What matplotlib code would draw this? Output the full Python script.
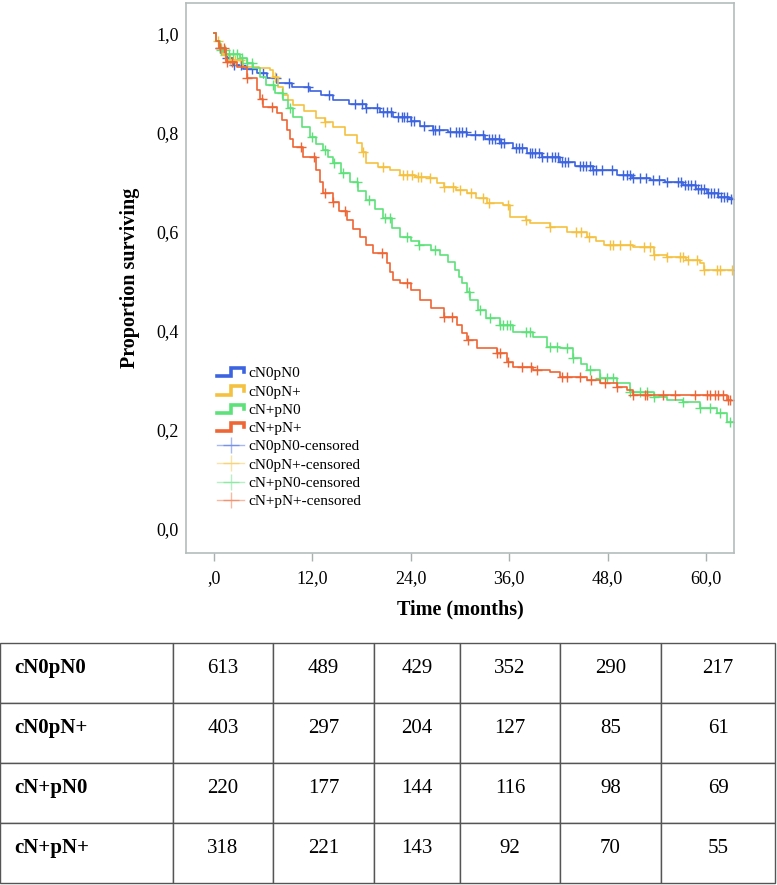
import numpy as np
import matplotlib
matplotlib.use("Agg")
import matplotlib.pyplot as plt
from matplotlib.lines import Line2D
from matplotlib.legend_handler import HandlerBase
from matplotlib.table import Table

plt.rcParams['font.family'] = ['Liberation Serif', 'DejaVu Serif']

# groups and colours
groups = ["cN0pN0", "cN0pN+", "cN+pN0", "cN+pN+"]
colors = ["#3d64e0", "#f5c140", "#5de27a", "#ef6534"]

# Kaplan-Meier steps (months, proportion surviving)
t_cn0pn0 = [0, 0.3, 0.6, 1.0, 1.5, 2.3, 3.5, 5.2, 6.5, 7.7, 9.5, 11.7, 13.0, 14.5, 16.5, 18.6,
            20.3, 21.8, 24.0, 25.1, 26.7, 28.5, 30.8, 33.0, 34.9, 36.5, 38.2, 40.0, 42.2, 44.0,
            46.2, 49.1, 51.0, 53.2, 55.0, 57.2, 58.8, 60.1, 61.5, 62.8, 63.4]
s_cn0pn0 = [1.0, 0.985, 0.97, 0.962, 0.95, 0.935, 0.928, 0.92, 0.91, 0.9, 0.892, 0.883, 0.875,
            0.865, 0.856, 0.848, 0.84, 0.83, 0.822, 0.812, 0.804, 0.80, 0.794, 0.786, 0.778,
            0.768, 0.757, 0.75, 0.74, 0.732, 0.723, 0.713, 0.708, 0.703, 0.699, 0.693, 0.685,
            0.677, 0.67, 0.665, 0.665]

t_cn0pnp = [0, 0.3, 0.6, 1.1, 2.0, 3.5, 5.5, 6.8, 7.2, 7.8, 8.4, 9.0, 9.7, 11.0, 12.5, 13.5,
            14.5, 16.0, 17.4, 18.0, 18.6, 20.0, 21.5, 22.7, 24.5, 26.3, 27.2, 28.0, 29.5, 30.8,
            32.0, 33.3, 35.3, 36.1, 38.1, 38.5, 41.0, 43.0, 45.5, 46.6, 47.5, 51.1, 53.6, 55.2,
            57.5, 59.3, 59.7, 63.4]
s_cn0pnp = [1.0, 0.985, 0.97, 0.955, 0.945, 0.932, 0.929, 0.925, 0.911, 0.892, 0.875, 0.865,
            0.855, 0.842, 0.828, 0.82, 0.81, 0.795, 0.778, 0.76, 0.737, 0.73, 0.723, 0.713, 0.71,
            0.707, 0.698, 0.689, 0.683, 0.677, 0.668, 0.657, 0.653, 0.628, 0.622, 0.616, 0.608,
            0.598, 0.588, 0.58, 0.572, 0.568, 0.552, 0.548, 0.542, 0.535, 0.521, 0.521]

t_cnppn0 = [0, 0.3, 0.7, 1.5, 3.2, 4.0, 4.8, 5.6, 6.4, 7.4, 8.4, 9.0, 9.7, 10.7, 11.7, 12.5,
            13.3, 13.9, 14.5, 15.5, 16.6, 17.6, 18.6, 19.6, 20.6, 21.7, 22.7, 24.0, 25.0, 26.5,
            27.6, 28.5, 29.4, 29.9, 30.3, 30.8, 31.2, 32.2, 33.2, 34.9, 36.5, 38.9, 40.6, 42.2,
            43.8, 44.7, 45.5, 47.1, 49.1, 50.7, 53.6, 55.2, 57.2, 59.3, 61.3, 62.5, 63.4]
s_cnppn0 = [1.0, 0.985, 0.966, 0.958, 0.949, 0.94, 0.929, 0.912, 0.895, 0.88, 0.865, 0.848,
            0.83, 0.81, 0.79, 0.777, 0.764, 0.75, 0.737, 0.718, 0.699, 0.681, 0.663, 0.645,
            0.626, 0.607, 0.588, 0.58, 0.572, 0.562, 0.552, 0.537, 0.521, 0.508, 0.495, 0.478,
            0.461, 0.44, 0.425, 0.41, 0.396, 0.386, 0.366, 0.364, 0.343, 0.331, 0.319, 0.303,
            0.293, 0.275, 0.265, 0.259, 0.255, 0.242, 0.232, 0.214, 0.214]

t_cnppnp = [0, 0.3, 0.6, 1.5, 2.8, 4.0, 5.2, 5.6, 6.0, 7.7, 8.3, 8.9, 9.3, 9.7, 10.9, 12.5,
            12.9, 13.3, 14.5, 15.3, 16.2, 17.0, 17.8, 18.6, 19.4, 21.1, 21.5, 21.8, 22.7, 24.0,
            25.1, 26.5, 28.0, 29.6, 30.2, 30.8, 32.1, 34.5, 35.7, 36.5, 38.9, 41.0, 42.2, 45.5,
            47.1, 49.1, 50.4, 51.1, 62.6, 63.0]
s_cnppnp = [1.0, 0.985, 0.97, 0.941, 0.931, 0.909, 0.885, 0.868, 0.851, 0.838, 0.825, 0.804,
            0.787, 0.77, 0.75, 0.723, 0.70, 0.677, 0.659, 0.64, 0.622, 0.605, 0.588, 0.572,
            0.556, 0.535, 0.518, 0.501, 0.495, 0.481, 0.461, 0.445, 0.426, 0.41, 0.395, 0.38,
            0.364, 0.354, 0.336, 0.326, 0.319, 0.315, 0.305, 0.299, 0.293, 0.285, 0.279, 0.269,
            0.259, 0.259]

# censoring times (months)
c_cn0pn0 = [0.8, 1.6, 2.5, 3.3, 4.6, 6.0, 7.6, 9.2, 11.5, 14.0, 17.2, 18.0, 18.6, 19.9, 20.6,
            21.1, 21.6, 22.4, 22.9, 23.2, 23.6, 24.0, 24.4, 25.6, 26.7, 27.0, 27.4, 28.8, 29.5,
            29.9, 30.3, 30.7, 31.8, 32.8, 33.5, 33.9, 34.3, 34.7, 35.0, 35.4, 36.8, 37.2, 37.6,
            38.5, 38.8, 39.2, 39.6, 40.0, 40.6, 41.2, 41.6, 42.0, 42.4, 42.8, 43.2, 44.6, 45.0,
            45.4, 45.8, 46.2, 46.6, 47.3, 48.5, 49.9, 50.3, 50.7, 51.1, 52.0, 52.7, 53.5, 54.3,
            55.2, 56.6, 57.0, 57.4, 57.8, 58.2, 58.6, 59.0, 59.4, 59.8, 60.2, 60.6, 61.0, 61.4,
            61.8, 62.2, 62.6, 63.0]
c_cn0pnp = [0.5, 0.9, 1.4, 2.0, 2.6, 3.2, 7.4, 13.6, 18.2, 20.6, 23.1, 23.6, 24.1, 24.9, 25.3,
            26.3, 28.0, 29.2, 30.0, 31.4, 32.8, 33.5, 35.9, 38.1, 41.0, 44.2, 44.8, 45.7, 48.3,
            48.7, 49.5, 50.7, 52.4, 53.2, 53.6, 55.2, 56.8, 57.2, 57.8, 58.9, 59.7, 61.3, 61.7,
            63.1]
c_cnppn0 = [0.9, 1.3, 1.8, 2.3, 2.8, 3.4, 4.0, 4.7, 7.2, 8.3, 9.3, 12.0, 13.5, 14.6, 15.7, 17.5,
            18.9, 20.8, 21.5, 23.5, 25.0, 27.0, 31.1, 32.4, 33.6, 34.9, 35.3, 35.7, 36.1, 38.1,
            38.5, 41.0, 41.8, 43.0, 43.8, 45.9, 47.1, 47.9, 48.7, 50.7, 51.9, 52.8, 53.6, 57.2,
            59.3, 60.5, 61.7, 62.9]
c_cnppnp = [0.8, 1.2, 1.6, 2.2, 4.0, 5.9, 7.1, 10.6, 12.2, 13.6, 14.5, 16.0, 20.5, 23.5, 28.0,
            29.0, 31.0, 34.5, 34.9, 35.9, 37.5, 38.7, 39.4, 42.4, 43.0, 44.6, 46.0, 47.7, 49.1,
            51.1, 52.6, 52.8, 54.8, 56.2, 58.7, 60.1, 60.5, 61.1, 61.5, 62.1, 62.7, 62.9]

times = [t_cn0pn0, t_cn0pnp, t_cnppn0, t_cnppnp]
survs = [s_cn0pn0, s_cn0pnp, s_cnppn0, s_cnppnp]
censors = [c_cn0pn0, c_cn0pnp, c_cnppn0, c_cnppnp]

# numbers at risk table
risk_cn0pn0 = [613, 489, 429, 352, 290, 217]
risk_cn0pnp = [403, 297, 204, 127, 85, 61]
risk_cnppn0 = [220, 177, 144, 116, 98, 69]
risk_cnppnp = [318, 221, 143, 92, 70, 55]
risks = [risk_cn0pn0, risk_cn0pnp, risk_cnppn0, risk_cnppnp]

xticks = [0, 12, 24, 36, 48, 60]
xlabels = [",0", "12,0", "24,0", "36,0", "48,0", "60,0"]
yticks = [0, 0.2, 0.4, 0.6, 0.8, 1.0]
ylabels = ["0,0", "0,2", "0,4", "0,6", "0,8", "1,0"]


class StepHandler(HandlerBase):
    # little step drawn as legend key, like the SPSS output
    def create_artists(self, legend, orig_handle, xdescent, ydescent,
                       width, height, fontsize, trans):
        x0, y0 = -xdescent, -ydescent
        xs = [x0, x0 + 0.5 * width, x0 + 0.5 * width, x0 + width, x0 + width]
        ys = [y0 + 0.1 * height, y0 + 0.1 * height, y0 + 0.85 * height,
              y0 + 0.85 * height, y0 + 0.45 * height]
        ln = Line2D(xs, ys, color=orig_handle.get_color(), lw=2.6,
                    solid_joinstyle='miter', transform=trans)
        return [ln]


fig = plt.figure(figsize=(7.77, 8.85), dpi=100)
ax = fig.add_axes([186 / 777, 1 - 553 / 885, 548 / 777, 550 / 885])

step_handles = []
cens_handles = []
for name, col, t, s, c in zip(groups, colors, times, survs, censors):
    t = np.array(t)
    s = np.array(s)
    ax.plot(t, s, drawstyle='steps-post', color=col, lw=1.2)
    idx = np.searchsorted(t, c, side='right') - 1
    ax.plot(c, s[idx], ls='none', marker='+', ms=7.5, mew=1.0, color=col)
    step_handles.append(Line2D([], [], color=col))
    cens_handles.append(Line2D([], [], color=col, lw=1.0, alpha=0.45,
                               marker='+', ms=11, mew=1.0))

ax.set_xlim(-3.4, 63.4)
ax.set_ylim(-0.05, 1.061)
ax.set_xticks(xticks)
ax.set_xticklabels(xlabels, fontsize=13)
ax.set_yticks(yticks)
ax.set_yticklabels(ylabels, fontsize=13)
ax.tick_params(axis='x', length=6, width=1, color='#a8b0b0', pad=6)
ax.tick_params(axis='y', length=0, pad=5)
for sp in ax.spines.values():
    sp.set_color('#b4bcbc')
    sp.set_linewidth(1.2)

ax.set_xlabel("Time (months)", fontsize=14.5, fontweight='bold', labelpad=9)
ax.set_ylabel("Proportion surviving", fontsize=14.5, fontweight='bold', labelpad=12)

labels = groups + [g + "-censored" for g in groups]
handler_map = {h: StepHandler() for h in step_handles}
ax.legend(step_handles + cens_handles, labels, loc='upper left',
          bbox_to_anchor=(0.046, 0.35), frameon=False, fontsize=11,
          handlelength=1.75, handletextpad=0.3, labelspacing=0.3,
          borderaxespad=0, handler_map=handler_map)

# number at risk table under the plot
tab_ax = fig.add_axes([0, 2 / 885, 775 / 777, 240 / 885])
tab_ax.axis('off')
col_w = np.array([173, 100, 101, 86, 100, 101, 114], dtype=float)
col_w = col_w / col_w.sum()
tbl = Table(tab_ax, bbox=[0, 0, 1, 1])
for i, (name, row) in enumerate(zip(groups, risks)):
    cells = [name] + [str(v) for v in row]
    for j, txt in enumerate(cells):
        cell = tbl.add_cell(i, j, width=col_w[j], height=0.25, text=txt,
                            loc='left' if j == 0 else 'center',
                            edgecolor='#555555', facecolor='white')
        cell.set_linewidth(1.0)
        cell.get_text().set_va('baseline')
        if j == 0:
            cell.PAD = 0.08
            cell.get_text().set_fontweight('bold')
tbl.auto_set_font_size(False)
tbl.set_fontsize(15)
tab_ax.add_table(tbl)

fig.savefig("out.png", dpi=100)
